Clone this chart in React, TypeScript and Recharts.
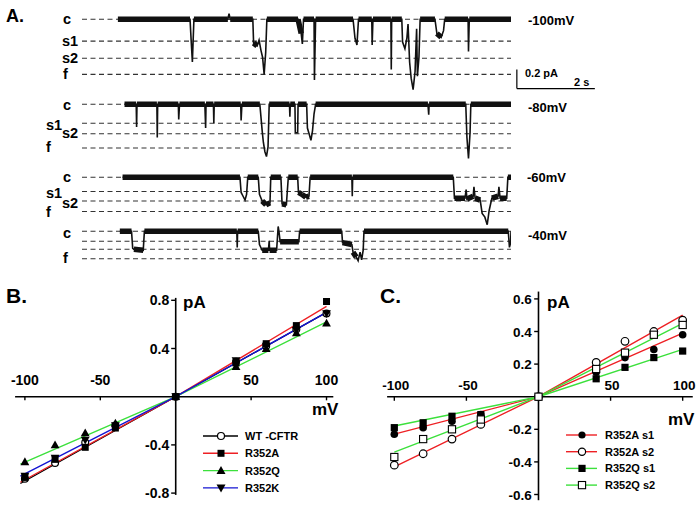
import React from "react";
import {
  LineChart,
  Line,
  ComposedChart,
  Scatter,
  XAxis,
  YAxis,
  ReferenceLine,
  ReferenceDot,
} from "recharts";

const FONT = '"Liberation Sans", Arial, Helvetica, sans-serif';
const RED = "#ee2024";
const GREEN = "#3ce03c";
const BLUE = "#1414d2";

// ---------- A. single channel records: [t (s), i (pA, 0 = closed)] ----------
const levels100 = [0, -0.23, -0.41, -0.58];
const trace100: [number, number][] = [
  [0.92, 0], [2.77, 0], [2.8, -0.23], [2.83, -0.45], [2.85, -0.22], [2.87, 0],
  [3.74, 0], [3.77, 0.06], [3.8, 0], [4.38, 0], [4.4, -0.25], [4.49, -0.28],
  [4.54, -0.22], [4.59, -0.33], [4.63, -0.4], [4.67, -0.58], [4.71, -0.35], [4.74, 0],
  [5.54, 0], [5.62, -0.15], [5.65, -0.26], [5.68, 0], [5.95, 0], [5.96, -0.64],
  [5.99, 0], [6.95, 0], [7.0, -0.2], [7.05, -0.27], [7.09, 0], [7.43, 0],
  [7.44, -0.27], [7.46, 0], [7.92, 0], [7.93, -0.53], [7.94, 0], [8.2, 0],
  [8.22, -0.24], [8.28, -0.31], [8.33, -0.2], [8.36, -0.05], [8.4, -0.45], [8.44, -0.62],
  [8.49, -0.74], [8.54, -0.55], [8.58, -0.1], [8.6, -0.6], [8.64, -0.4], [8.67, 0],
  [9.05, 0], [9.1, -0.15], [9.21, -0.19], [9.27, -0.12], [9.3, 0], [9.9, 0],
  [9.91, -0.34], [9.93, 0], [11.0, 0],
];

const levels80 = [0, -0.2, -0.31, -0.46];
const trace80: [number, number][] = [
  [1.09, 0], [1.39, 0], [1.4, -0.24], [1.41, 0], [1.92, 0], [1.93, -0.35], [1.94, 0],
  [2.47, 0], [2.48, -0.16], [2.5, 0], [3.15, 0], [3.17, -0.25], [3.18, 0],
  [3.37, 0], [3.38, -0.2], [3.39, 0], [4.07, 0], [4.08, -0.17], [4.1, 0],
  [4.56, 0], [4.62, -0.28], [4.65, -0.4], [4.69, -0.5], [4.73, -0.55], [4.77, -0.45],
  [4.8, 0], [5.32, 0], [5.33, -0.13], [5.34, 0], [5.46, 0], [5.47, -0.3],
  [5.53, -0.3], [5.54, 0], [5.76, 0], [5.78, -0.25], [5.83, -0.32], [5.87, -0.38],
  [5.91, -0.28], [5.95, -0.1], [5.99, 0], [8.87, 0], [8.89, -0.11], [8.9, 0],
  [9.84, 0], [9.87, -0.35], [9.91, -0.57], [9.95, -0.3], [9.97, 0], [11.0, 0],
];

const levels60 = [0, -0.15, -0.25, -0.36];
const trace60: [number, number][] = [
  [1.04, 0], [4.05, 0], [4.08, -0.16], [4.13, -0.2], [4.18, -0.24], [4.22, -0.18],
  [4.25, 0], [4.52, 0], [4.55, -0.18], [4.62, -0.25], [4.72, -0.29], [4.82, -0.27],
  [4.84, 0], [5.1, 0], [5.13, -0.28], [5.24, -0.29], [5.29, 0], [5.53, 0],
  [5.55, -0.16], [5.64, -0.18], [5.74, -0.21], [5.82, -0.2], [5.85, 0], [6.92, 0],
  [6.93, -0.2], [6.94, 0], [9.52, 0], [9.55, -0.22], [9.82, -0.22], [9.85, -0.13],
  [9.87, -0.23], [10.03, -0.2], [10.05, -0.1], [10.08, -0.22], [10.21, -0.24],
  [10.26, -0.38], [10.33, -0.42], [10.39, -0.5], [10.44, -0.35], [10.51, -0.22],
  [10.67, -0.2], [10.69, -0.1], [10.72, -0.22], [10.89, -0.22], [10.92, 0], [11.0, 0],
];

const levels40 = [0, -0.105, -0.19, -0.29];
const trace40: [number, number][] = [
  [0.97, 0], [1.27, 0], [1.3, -0.18], [1.33, -0.19], [1.57, -0.2], [1.6, 0],
  [3.97, 0], [3.98, -0.17], [3.99, 0], [4.52, 0], [4.55, -0.14], [4.62, -0.2],
  [4.78, -0.2], [4.8, -0.1], [4.81, -0.2], [4.99, -0.2], [5.03, 0.05], [5.05, 0],
  [5.08, -0.11], [5.56, -0.11], [5.58, 0], [6.66, 0], [6.68, -0.12], [6.92, -0.14],
  [6.95, -0.22], [7.03, -0.27], [7.08, -0.31], [7.13, -0.22], [7.17, -0.3],
  [7.21, -0.2], [7.23, 0], [10.93, 0], [10.96, -0.17], [10.99, -0.12], [11.0, 0],
];

// ---------- B. I-V, full conductance ----------
const ivVolts = [-100, -80, -60, -40, 0, 40, 60, 80, 100];
const wtCftr = [-0.68, -0.55, -0.38, -0.24, 0, 0.29, 0.42, 0.56, 0.69];
const r352a = [-0.67, -0.52, -0.42, -0.26, 0, 0.28, 0.44, 0.59, 0.79];
const r352q = [-0.54, -0.4, -0.3, -0.22, 0, 0.25, 0.4, 0.53, 0.61];
const r352k = [-0.66, -0.51, -0.36, -0.24, 0, 0.3, 0.42, 0.55, 0.69];
const fitVoltsB = [-103, 0, 100];
const wtFit = [-0.72, 0, 0.7];
const r352aFit = [-0.71, 0, 0.75];
const r352qFit = [-0.56, 0, 0.62];
const r352kFit = [-0.66, 0, 0.7];
const bXTicks = [-100, -50, 50, 100];
const bYTicks = [0.8, 0.4, -0.4, -0.8];

// ---------- C. I-V, subconductance states ----------
const r352aS1 = [-0.23, -0.19, -0.15, -0.11, 0, 0.15, 0.24, 0.29, 0.38];
const r352aS2 = [-0.42, -0.35, -0.26, -0.17, 0, 0.21, 0.34, 0.4, 0.47];
const r352qS1 = [-0.19, -0.16, -0.12, -0.11, 0, 0.11, 0.18, 0.24, 0.28];
const r352qS2 = [-0.37, -0.26, -0.2, -0.14, 0, 0.17, 0.27, 0.38, 0.44];
const fitVoltsC = [-100, 0, 100];
const r352aS1Fit = [-0.23, 0, 0.39];
const r352aS2Fit = [-0.43, 0, 0.5];
const r352qS1Fit = [-0.18, 0, 0.29];
const r352qS2Fit = [-0.34, 0, 0.45];
const cXTicks = [-100, -50, 50, 100];
const cYTicks = [0.6, 0.4, 0.2, -0.2, -0.4, -0.6];

const pair = (xs: number[], ys: number[]) => xs.map((x, k) => ({ x, y: ys[k] }));

function Marker({ kind, cx, cy, s = 3.6 }: any) {
  switch (kind) {
    case "circle":
      return <circle cx={cx} cy={cy} r={s} fill="#000" />;
    case "circleOpen":
      return <circle cx={cx} cy={cy} r={s} fill="#fff" stroke="#000" strokeWidth={1.2} />;
    case "square":
      return <rect x={cx - s} y={cy - s} width={2 * s} height={2 * s} fill="#000" />;
    case "squareOpen":
      return <rect x={cx - s} y={cy - s} width={2 * s} height={2 * s} fill="#fff" stroke="#000" strokeWidth={1.1} />;
    case "triUp":
      return <polygon points={`${cx},${cy - s - 1} ${cx - s - 1},${cy + s} ${cx + s + 1},${cy + s}`} fill="#000" />;
    case "triDown":
      return <polygon points={`${cx},${cy + s + 1} ${cx - s - 1},${cy - s} ${cx + s + 1},${cy - s}`} fill="#000" />;
    default:
      return null;
  }
}

function TraceRow({ top, trace, levels, scaleBar }: any) {
  const data = trace.map(([t, i]: [number, number]) => ({ t, i }));
  // dwells (long segments) are drawn as a thick band, like the noisy record
  const band: any[] = [];
  for (let k = 0; k < data.length - 1; k++) {
    if (data[k + 1].t - data[k].t >= 0.08) {
      band.push(data[k], data[k + 1], { t: data[k + 1].t, i: null });
    }
  }
  return (
    <div style={{ position: "absolute", left: 0, top }}>
      <LineChart width={697} height={91} margin={{ top: 0, right: 186, bottom: 0.75, left: 82 }}>
        <XAxis type="number" dataKey="t" domain={[0, 11]} hide allowDataOverflow />
        <YAxis type="number" domain={[-0.8, 0.15]} hide allowDataOverflow />
        {levels.map((l: number) => (
          <ReferenceLine key={l} y={l} stroke="#333" strokeWidth={1.1} strokeDasharray="5 3.5" />
        ))}
        <Line data={band} dataKey="i" stroke="#111" strokeWidth={5.5} dot={false} isAnimationActive={false} />
        <Line data={data} dataKey="i" stroke="#111" strokeWidth={1.6} dot={false} isAnimationActive={false} />
        {scaleBar && (
          <ReferenceLine
            segment={[{ x: 11.15, y: -0.53 }, { x: 11.15, y: -0.73 }]}
            stroke="#000"
            strokeWidth={1.2}
            ifOverflow="visible"
          />
        )}
        {scaleBar && (
          <ReferenceLine
            segment={[{ x: 11.15, y: -0.73 }, { x: 13.15, y: -0.73 }]}
            stroke="#000"
            strokeWidth={1.2}
            ifOverflow="visible"
          />
        )}
      </LineChart>
    </div>
  );
}

const tickText = (size: number, dx: number, dy: number, anchor: string, label: string) => (p: any) =>
  (
    <text
      x={p.cx + dx}
      y={p.cy + dy}
      textAnchor={anchor}
      fontSize={size}
      fontWeight="bold"
      fontFamily={FONT}
      fill="#000"
    >
      {label}
    </text>
  );

function PanelB() {
  return (
    <div style={{ position: "absolute", left: 0, top: 260 }}>
      <ComposedChart width={350} height={248} margin={{ top: 28.25, right: 8.4, bottom: 2.85, left: 6.8 }}>
        <XAxis type="number" dataKey="x" domain={[-112, 110]} hide allowDataOverflow />
        <YAxis type="number" dataKey="y" domain={[-0.9, 0.9]} hide allowDataOverflow />
        <ReferenceLine segment={[{ x: -106.5, y: 0 }, { x: 104.5, y: 0 }]} stroke="#000" strokeWidth={1.6} />
        <ReferenceLine segment={[{ x: 0, y: -0.815 }, { x: 0, y: 0.82 }]} stroke="#000" strokeWidth={1.6} />
        {bXTicks.map((v) => (
          <ReferenceLine key={`bxt${v}`} segment={[{ x: v, y: 0 }, { x: v, y: -0.03 }]} stroke="#000" strokeWidth={1.4} />
        ))}
        {bYTicks.map((v) => (
          <ReferenceLine key={`byt${v}`} segment={[{ x: -3, y: v }, { x: 0, y: v }]} stroke="#000" strokeWidth={1.4} />
        ))}
        {bXTicks.map((v) => (
          <ReferenceDot key={`bxl${v}`} x={v} y={0} r={1} ifOverflow="visible" shape={tickText(14, 0, -11.5, "middle", String(v))} />
        ))}
        {bYTicks.map((v) => (
          <ReferenceDot key={`byl${v}`} x={-3} y={v} r={1} ifOverflow="visible" shape={tickText(14, -2, 5, "end", v.toFixed(1))} />
        ))}
        <Line data={pair(fitVoltsB, wtFit)} dataKey="y" stroke="#000" strokeWidth={1.3} dot={false} isAnimationActive={false} />
        <Line data={pair(fitVoltsB, r352aFit)} dataKey="y" stroke={RED} strokeWidth={1.4} dot={false} isAnimationActive={false} />
        <Line data={pair(fitVoltsB, r352qFit)} dataKey="y" stroke={GREEN} strokeWidth={1.4} dot={false} isAnimationActive={false} />
        <Line data={pair(fitVoltsB, r352kFit)} dataKey="y" stroke={BLUE} strokeWidth={1.4} dot={false} isAnimationActive={false} />
        <Scatter data={pair(ivVolts, wtCftr)} isAnimationActive={false} shape={(p: any) => <Marker kind="circleOpen" cx={p.cx} cy={p.cy} s={3.4} />} />
        <Scatter data={pair(ivVolts, r352a)} isAnimationActive={false} shape={(p: any) => <Marker kind="square" cx={p.cx} cy={p.cy} s={3.5} />} />
        <Scatter data={pair(ivVolts, r352q)} isAnimationActive={false} shape={(p: any) => <Marker kind="triUp" cx={p.cx} cy={p.cy} s={3.4} />} />
        <Scatter data={pair(ivVolts, r352k)} isAnimationActive={false} shape={(p: any) => <Marker kind="triDown" cx={p.cx} cy={p.cy} s={3.4} />} />
      </ComposedChart>
    </div>
  );
}

function PanelC() {
  return (
    <div style={{ position: "absolute", left: 350, top: 260 }}>
      <ComposedChart width={347} height={248} margin={{ top: 22.6, right: 2.8, bottom: 0.46, left: 29.9 }}>
        <XAxis type="number" dataKey="x" domain={[-110, 108]} hide allowDataOverflow />
        <YAxis type="number" dataKey="y" domain={[-0.68, 0.7]} hide allowDataOverflow />
        <ReferenceLine segment={[{ x: -105, y: 0 }, { x: 107, y: 0 }]} stroke="#000" strokeWidth={1.6} />
        <ReferenceLine segment={[{ x: 0, y: -0.635 }, { x: 0, y: 0.645 }]} stroke="#000" strokeWidth={1.6} />
        {cXTicks.map((v) => (
          <ReferenceLine key={`cxt${v}`} segment={[{ x: v, y: 0 }, { x: v, y: -0.025 }]} stroke="#000" strokeWidth={1.4} />
        ))}
        {cYTicks.map((v) => (
          <ReferenceLine key={`cyt${v}`} segment={[{ x: -3, y: v }, { x: 0, y: v }]} stroke="#000" strokeWidth={1.4} />
        ))}
        {cXTicks.map((v) => (
          <ReferenceDot key={`cxl${v}`} x={v} y={0} r={1} ifOverflow="visible" shape={tickText(13.5, 1.5, -7, "middle", String(v))} />
        ))}
        {cYTicks.map((v) => (
          <ReferenceDot key={`cyl${v}`} x={-3} y={v} r={1} ifOverflow="visible" shape={tickText(13.5, -2.5, 5, "end", v.toFixed(1))} />
        ))}
        <Line data={pair(fitVoltsC, r352aS2Fit)} dataKey="y" stroke={RED} strokeWidth={1.4} dot={false} isAnimationActive={false} />
        <Line data={pair(fitVoltsC, r352aS1Fit)} dataKey="y" stroke={RED} strokeWidth={1.4} dot={false} isAnimationActive={false} />
        <Line data={pair(fitVoltsC, r352qS2Fit)} dataKey="y" stroke={GREEN} strokeWidth={1.4} dot={false} isAnimationActive={false} />
        <Line data={pair(fitVoltsC, r352qS1Fit)} dataKey="y" stroke={GREEN} strokeWidth={1.4} dot={false} isAnimationActive={false} />
        <Scatter data={pair(ivVolts, r352aS1)} isAnimationActive={false} shape={(p: any) => <Marker kind="circle" cx={p.cx} cy={p.cy} s={3.8} />} />
        <Scatter data={pair(ivVolts, r352aS2)} isAnimationActive={false} shape={(p: any) => <Marker kind="circleOpen" cx={p.cx} cy={p.cy} s={3.8} />} />
        <Scatter data={pair(ivVolts, r352qS1)} isAnimationActive={false} shape={(p: any) => <Marker kind="square" cx={p.cx} cy={p.cy} s={3.6} />} />
        <Scatter data={pair(ivVolts, r352qS2)} isAnimationActive={false} shape={(p: any) => <Marker kind="squareOpen" cx={p.cx} cy={p.cy} s={3.6} />} />
      </ComposedChart>
    </div>
  );
}

const legendB = [
  { name: "WT -CFTR", color: "#000", kind: "circleOpen" },
  { name: "R352A", color: RED, kind: "square" },
  { name: "R352Q", color: GREEN, kind: "triUp" },
  { name: "R352K", color: BLUE, kind: "triDown" },
];
const legendC = [
  { name: "R352A s1", color: RED, kind: "circle" },
  { name: "R352A s2", color: RED, kind: "circleOpen" },
  { name: "R352Q s1", color: GREEN, kind: "square" },
  { name: "R352Q s2", color: GREEN, kind: "squareOpen" },
];

const T = (props: any) => <text fontFamily={FONT} fontWeight="bold" fill="#000" {...props} />;

function Overlay() {
  return (
    <svg width={697} height={508} style={{ position: "absolute", left: 0, top: 0, pointerEvents: "none" }}>
      <T x={6} y={22} fontSize={18}>A.</T>
      <T x={6} y={303} fontSize={21}>B.</T>
      <T x={380} y={303} fontSize={21}>C.</T>

      {/* level labels */}
      <T x={63} y={24} fontSize={14.5}>c</T>
      <T x={62} y={45.5} fontSize={14.5}>s1</T>
      <T x={62} y={62.5} fontSize={14.5}>s2</T>
      <T x={63} y={78.5} fontSize={14.5}>f</T>

      <T x={63} y={110} fontSize={14.5}>c</T>
      <T x={46} y={130} fontSize={14.5}>s1</T>
      <T x={62} y={138} fontSize={14.5}>s2</T>
      <T x={46} y={152} fontSize={14.5}>f</T>

      <T x={63} y={182} fontSize={14.5}>c</T>
      <T x={46} y={198} fontSize={14.5}>s1</T>
      <T x={62} y={208} fontSize={14.5}>s2</T>
      <T x={46} y={217} fontSize={14.5}>f</T>

      <T x={63} y={238} fontSize={14.5}>c</T>
      <T x={63} y={263} fontSize={14.5}>f</T>

      <T x={528} y={25} fontSize={13}>-100mV</T>
      <T x={528} y={112} fontSize={13}>-80mV</T>
      <T x={527} y={182} fontSize={13}>-60mV</T>
      <T x={528} y={240} fontSize={13}>-40mV</T>
      <T x={525} y={77} fontSize={11}>0.2 pA</T>
      <T x={574} y={86} fontSize={11}>2 s</T>

      <T x={183} y={308} fontSize={17}>pA</T>
      <T x={312} y={415} fontSize={17}>mV</T>
      <T x={547} y={308} fontSize={17}>pA</T>
      <T x={668} y={425} fontSize={17}>mV</T>

      {legendB.map((e, k) => {
        const cy = 436 + 17.3 * k;
        return (
          <g key={e.name}>
            <line x1={203} x2={238} y1={cy} y2={cy} stroke={e.color} strokeWidth={1.4} />
            <Marker kind={e.kind} cx={221} cy={cy} s={3.5} />
            <T x={245} y={cy + 4} fontSize={11}>{e.name}</T>
          </g>
        );
      })}
      {legendC.map((e, k) => {
        const cy = 435 + 16.7 * k;
        return (
          <g key={e.name}>
            <line x1={566} x2={597} y1={cy} y2={cy} stroke={e.color} strokeWidth={1.4} />
            <Marker kind={e.kind} cx={582} cy={cy} s={3.6} />
            <T x={605} y={cy + 4} fontSize={11}>{e.name}</T>
          </g>
        );
      })}
    </svg>
  );
}

export default function App() {
  return (
    <div
      style={{
        position: "absolute",
        left: 0,
        top: 0,
        width: 697,
        height: 508,
        background: "#fff",
        fontFamily: FONT,
        overflow: "hidden",
      }}
    >
      <TraceRow top={5.05} trace={trace100} levels={levels100} scaleBar />
      <TraceRow top={90.05} trace={trace80} levels={levels80} />
      <TraceRow top={162.75} trace={trace60} levels={levels60} />
      <TraceRow top={217.45} trace={trace40} levels={levels40} />
      <PanelB />
      <PanelC />
      <Overlay />
    </div>
  );
}
